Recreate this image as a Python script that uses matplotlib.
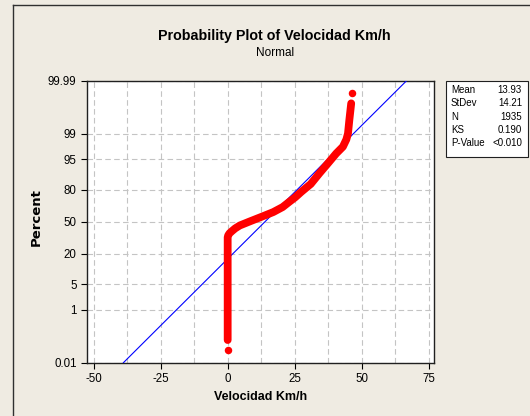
import numpy as np
import matplotlib
matplotlib.use("Agg")
import matplotlib.pyplot as plt
from matplotlib.lines import Line2D
from matplotlib.patches import Rectangle
from matplotlib.ticker import FixedLocator, FixedFormatter, MultipleLocator
from statistics import NormalDist

plt.rcParams["axes.unicode_minus"] = False

# values
mean_v, sd_v = 13.93, 14.21
stat_names = ["Mean", "StDev", "N", "KS", "P-Value"]
stat_values = ["13.93", "14.21", "1935", "0.190", "<0.010"]

# sorted velocities vs plotting percent (dense band of points)
band_pct = [0.09, 1, 5, 20, 34, 36, 38, 40, 43, 46, 50, 55, 60, 65, 70, 74,
            78.5, 84, 90, 93.8, 96.4, 97.6, 98.5, 99.0, 99.63, 99.91]
band_vel = [0, 0, 0, 0, 0, 0.2, 0.7, 1.5, 2.8, 4.5, 8, 12.5, 17, 20.5, 23, 25.2,
            27.5, 31, 34.3, 37.4, 40.5, 43, 44.3, 44.9, 45.4, 46.1]
# isolated extreme points
tail_pct = [0.036, 99.964]
tail_vel = [0.0, 46.5]

y_ticks = [0.01, 1, 5, 20, 50, 80, 95, 99, 99.99]
y_labels = ["0.01", "1", "5", "20", "50", "80", "95", "99", "99.99"]
x_ticks = [-50, -25, 0, 25, 50, 75]

BG = "#EFEBE2"
nd = NormalDist()


def to_z(p):
    p = np.clip(np.asarray(p, dtype=float), 1e-7, 100 - 1e-7)
    return np.vectorize(lambda v: nd.inv_cdf(v / 100.0), otypes=[float])(p)


def to_p(z):
    z = np.asarray(z, dtype=float)
    return np.vectorize(lambda v: nd.cdf(v) * 100.0, otypes=[float])(z)


W, H = 530, 416
fig = plt.figure(figsize=(W / 100, H / 100), dpi=100, facecolor=BG)
ax = fig.add_axes([87 / W, (H - 362.7) / H, 347 / W, 282 / H])
ax.set_facecolor("white")
ax.set_yscale("function", functions=(to_z, to_p))
ax.set_ylim(0.01, 99.99)
ax.set_xlim(-52.5, 77)

ax.yaxis.set_major_locator(FixedLocator(y_ticks))
ax.yaxis.set_major_formatter(FixedFormatter(y_labels))
ax.yaxis.set_minor_locator(FixedLocator([]))
ax.xaxis.set_major_locator(FixedLocator(x_ticks))
ax.xaxis.set_minor_locator(MultipleLocator(12.5))

ax.grid(True, which="both", color="#C4C4C4", linestyle=(0, (5, 3)), linewidth=0.8)
ax.set_axisbelow(True)
ax.tick_params(which="major", direction="out", length=4, width=0.8, labelsize=8.3,
               colors="black")
ax.tick_params(which="minor", length=0)
for lab in ax.get_xticklabels() + ax.get_yticklabels():
    lab.set_family("Liberation Sans")
for s in ax.spines.values():
    s.set_linewidth(1.0)
    s.set_color("#202020")

# fitted normal line
line_pct = [0.01, 99.99]
line_vel = [mean_v + sd_v * z for z in to_z(line_pct)]
ax.plot(line_vel, line_pct, color="#0000FF", linewidth=0.8, zorder=3)

# data points
ax.plot(band_vel, band_pct, color="#FF0000", linewidth=5.6,
        solid_capstyle="round", solid_joinstyle="round", zorder=4)
ax.plot(tail_vel, tail_pct, "o", color="#FF0000", markersize=5.4,
        markeredgewidth=0, zorder=4)

# texts
fig.text(274 / W, 1 - 36 / H, "Probability Plot of Velocidad Km/h",
         ha="center", va="center", fontsize=10.3, fontweight="bold",
         family="Liberation Sans")
fig.text(275 / W, 1 - 53.5 / H, "Normal", ha="center", va="center",
         fontsize=8.5, family="Liberation Sans")
fig.text(36 / W, 1 - 217 / H, "Percent", rotation=90, ha="center", va="center",
         fontsize=9.5, fontweight="bold", family="DejaVu Sans")
fig.text(261 / W, 1 - 396.5 / H, "Velocidad Km/h", ha="center", va="center",
         fontsize=9, fontweight="bold", family="Liberation Sans")

# statistics box
fig.patches.append(Rectangle((446 / W, 1 - 157 / H), 82 / W, 76 / H,
                             transform=fig.transFigure, facecolor="white",
                             edgecolor="#202020", linewidth=0.8))
row_y = [90, 103.3, 116.6, 130, 143.3]
for name, val, yy in zip(stat_names, stat_values, row_y):
    fig.text(451 / W, 1 - yy / H, name, ha="left", va="center", fontsize=7,
             family="Liberation Sans")
    fig.text(522 / W, 1 - yy / H, val, ha="right", va="center", fontsize=7,
             family="Liberation Sans")

# outer frame (left and top edges)
fig.add_artist(Line2D([13 / W, 13 / W], [0, 1 - 5 / H], color="#303030",
                      linewidth=1, transform=fig.transFigure))
fig.add_artist(Line2D([13 / W, 1], [1 - 5 / H, 1 - 5 / H], color="#303030",
                      linewidth=1, transform=fig.transFigure))

fig.savefig("out.png", dpi=100, facecolor=BG)
